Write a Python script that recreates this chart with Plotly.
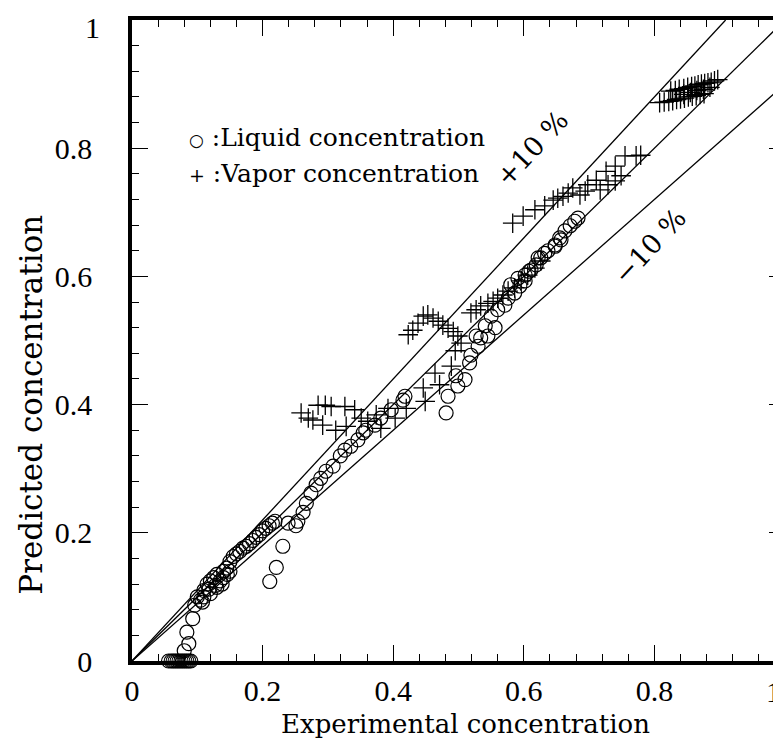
import plotly.graph_objects as go

# ---------------- data ----------------
liquid_x = [
    0.056, 0.060, 0.063, 0.066, 0.069, 0.072, 0.075, 0.078, 0.081, 0.084, 0.087, 0.090,
    0.080, 0.087, 0.084, 0.093,
    0.096, 0.100, 0.105, 0.110, 0.110, 0.115, 0.120, 0.120, 0.125, 0.130, 0.130, 0.135,
    0.140, 0.140, 0.145, 0.150, 0.150, 0.155, 0.160, 0.165, 0.170, 0.175, 0.180, 0.185,
    0.190, 0.195, 0.200, 0.205, 0.210, 0.215, 0.219, 0.108, 0.118, 0.128, 0.138, 0.146,
    0.211, 0.221, 0.231, 0.239, 0.251, 0.254, 0.262, 0.267, 0.274, 0.282, 0.289, 0.297,
    0.308, 0.319, 0.326, 0.335, 0.346, 0.354, 0.358, 0.372, 0.381, 0.397, 0.415, 0.418,
    0.481, 0.484, 0.499, 0.510, 0.496, 0.517, 0.519, 0.530, 0.534, 0.545, 0.527, 0.541,
    0.556, 0.550, 0.560, 0.571, 0.576, 0.586, 0.594, 0.602, 0.602, 0.611, 0.619, 0.626,
    0.637, 0.648, 0.657, 0.580, 0.591, 0.608, 0.622, 0.632, 0.648, 0.655, 0.663, 0.671,
    0.678, 0.683,
]
liquid_y = [
    0.000, 0.000, 0.000, 0.000, 0.000, 0.000, 0.000, 0.000, 0.000, 0.000, 0.000, 0.000,
    0.016, 0.027, 0.045, 0.066,
    0.087, 0.100, 0.095, 0.110, 0.100, 0.120, 0.105, 0.125, 0.130, 0.115, 0.135, 0.125,
    0.140, 0.130, 0.145, 0.140, 0.155, 0.163, 0.167, 0.171, 0.176, 0.179, 0.183, 0.188,
    0.193, 0.197, 0.203, 0.207, 0.211, 0.215, 0.218, 0.092, 0.112, 0.118, 0.120, 0.135,
    0.124, 0.146, 0.179, 0.215, 0.211, 0.218, 0.232, 0.246, 0.262, 0.275, 0.285, 0.296,
    0.304, 0.320, 0.329, 0.335, 0.345, 0.356, 0.360, 0.368, 0.379, 0.392, 0.407, 0.413,
    0.387, 0.413, 0.429, 0.439, 0.445, 0.465, 0.477, 0.491, 0.504, 0.507, 0.507, 0.523,
    0.520, 0.538, 0.548, 0.555, 0.566, 0.574, 0.585, 0.593, 0.602, 0.610, 0.618, 0.629,
    0.640, 0.649, 0.657, 0.587, 0.597, 0.608, 0.629, 0.636, 0.647, 0.660, 0.671, 0.679,
    0.686, 0.691,
]

vapor_x = [
    0.259, 0.270, 0.277, 0.285, 0.296, 0.305, 0.326, 0.341, 0.292, 0.312, 0.328, 0.351,
    0.361, 0.374, 0.381, 0.392, 0.403, 0.420, 0.446, 0.449, 0.464,
    0.423, 0.430, 0.438, 0.446, 0.453, 0.461, 0.469, 0.476, 0.484, 0.492, 0.499, 0.504,
    0.495, 0.489, 0.471,
    0.519, 0.527, 0.534, 0.545, 0.553, 0.560, 0.568, 0.576, 0.586, 0.596, 0.606, 0.617, 0.626,
    0.583, 0.599, 0.617, 0.632, 0.645, 0.652, 0.660, 0.668, 0.675, 0.686, 0.694, 0.698,
    0.711, 0.717, 0.726, 0.729, 0.740, 0.740, 0.749, 0.755, 0.772, 0.779,
    0.825, 0.832, 0.838, 0.845, 0.851, 0.857, 0.862, 0.867, 0.872, 0.877, 0.882, 0.887,
    0.892, 0.897, 0.808, 0.815, 0.822, 0.828, 0.834, 0.840, 0.846, 0.852, 0.858, 0.864,
    0.870, 0.876, 0.845, 0.855, 0.865, 0.875, 0.885,
]
vapor_y = [
    0.387, 0.379, 0.376, 0.399, 0.399, 0.397, 0.397, 0.392, 0.368, 0.360, 0.366, 0.379,
    0.374, 0.384, 0.363, 0.394, 0.379, 0.394, 0.426, 0.405, 0.449,
    0.509, 0.516, 0.527, 0.538, 0.540, 0.535, 0.530, 0.524, 0.519, 0.514, 0.507, 0.496,
    0.484, 0.460, 0.431,
    0.543, 0.548, 0.554, 0.558, 0.561, 0.566, 0.571, 0.577, 0.582, 0.593, 0.602, 0.613, 0.624,
    0.683, 0.694, 0.704, 0.710, 0.719, 0.722, 0.725, 0.730, 0.738, 0.727, 0.733, 0.743,
    0.750, 0.735, 0.764, 0.743, 0.749, 0.772, 0.757, 0.788, 0.788, 0.789,
    0.889, 0.890, 0.892, 0.893, 0.895, 0.896, 0.897, 0.899, 0.900, 0.901, 0.902, 0.903,
    0.905, 0.907, 0.871, 0.872, 0.873, 0.874, 0.876, 0.877, 0.878, 0.880, 0.881, 0.882,
    0.884, 0.885, 0.884, 0.887, 0.890, 0.892, 0.895,
]

# reference lines: y = x, y = 1.1 x, y = 0.9 x
line_exact_x = [0.0, 1.0]
line_exact_y = [0.0, 1.0]
line_plus_x = [0.0, 1.0 / 1.1]
line_plus_y = [0.0, 1.0]
line_minus_x = [0.0, 1.0]
line_minus_y = [0.0, 0.9]

tick_vals = [0, 0.2, 0.4, 0.6, 0.8, 1.0]
x_tick_text = ["0", "0.2", "0.4", "0.6", "0.8", ""]   # end "1" drawn as annotation below
y_tick_text = ["0", "0.2", "0.4", "0.6", "0.8", ""]   # top "1" drawn as annotation below
end_label = "1"

TICKFONT = "Liberation Serif"
TEXTFONT = "DejaVu Serif"

fig = go.Figure()
for lx, ly in [(line_exact_x, line_exact_y), (line_plus_x, line_plus_y), (line_minus_x, line_minus_y)]:
    fig.add_trace(go.Scatter(x=lx, y=ly, mode="lines",
                             line=dict(color="black", width=1.3), hoverinfo="skip"))

fig.add_trace(go.Scatter(x=liquid_x, y=liquid_y, mode="markers", cliponaxis=False,
                         marker=dict(symbol="circle-open", size=14, color="black",
                                     line=dict(color="black", width=1.2)),
                         name="Liquid concentration"))
fig.add_trace(go.Scatter(x=vapor_x, y=vapor_y, mode="markers", cliponaxis=False,
                         marker=dict(symbol="cross-thin-open", size=14, color="black",
                                     line=dict(color="black", width=1.3)),
                         name="Vapor concentration"))

axis_common = dict(
    range=[0, 1], tickvals=tick_vals,
    showline=True, linewidth=3.5, linecolor="black", mirror="allticks",
    ticks="inside", ticklen=16, tickwidth=1.3, tickcolor="black",
    minor=dict(dtick=0.04, tick0=0, ticks="inside", ticklen=7, tickwidth=1.2, tickcolor="black"),
    showgrid=False, zeroline=False, ticklabeloverflow="allow", automargin=False,
    tickfont=dict(family=TICKFONT, size=30, color="black"),
)

fig.update_xaxes(**axis_common, ticktext=x_tick_text, ticklabelstandoff=0)
fig.update_yaxes(**axis_common, ticktext=y_tick_text, ticklabelstandoff=30)

tick_font = dict(family=TICKFONT, size=30, color="black")
legend_font = dict(family=TEXTFONT, size=25, color="black")
annotations = [
    dict(x=0, y=1, xref="paper", yref="paper", text=end_label, showarrow=False,
         xanchor="right", yanchor="middle", xshift=-30, yshift=-7, font=tick_font),
    dict(x=1, y=0, xref="paper", yref="paper", text=end_label, showarrow=False,
         xanchor="right", yanchor="top", xshift=-2, yshift=-12, font=tick_font),
    dict(x=0.511, y=-0.098, xref="paper", yref="paper", text="Experimental concentration",
         showarrow=False, xanchor="center", yanchor="middle",
         font=dict(family=TEXTFONT, size=26, color="black")),
    dict(x=-0.156, y=0.40, xref="paper", yref="paper", text="Predicted concentration",
         showarrow=False, xanchor="center", yanchor="middle", textangle=-90,
         font=dict(family=TEXTFONT, size=31, color="black")),
    dict(x=0.084, y=0.816, xref="x", yref="y",
         text="<span style='font-size:17px'>○</span> :Liquid concentration", showarrow=False,
         xanchor="left", yanchor="middle", font=legend_font),
    dict(x=0.084, y=0.761, xref="x", yref="y",
         text="<span style='font-size:19px'>+</span> :Vapor concentration", showarrow=False,
         xanchor="left", yanchor="middle", font=legend_font),
    dict(x=0.612, y=0.800, xref="x", yref="y", text="+10 %", showarrow=False, textangle=-47,
         font=dict(family=TEXTFONT, size=27, color="black")),
    dict(x=0.792, y=0.647, xref="x", yref="y", text="−10 %", showarrow=False, textangle=-47,
         font=dict(family=TEXTFONT, size=27, color="black")),
]

fig.update_layout(
    width=781, height=747,
    margin=dict(l=124, r=4, t=12, b=94, autoexpand=False),
    paper_bgcolor="white", plot_bgcolor="white",
    showlegend=False,
    annotations=annotations,
)

fig.write_html("out.html")
